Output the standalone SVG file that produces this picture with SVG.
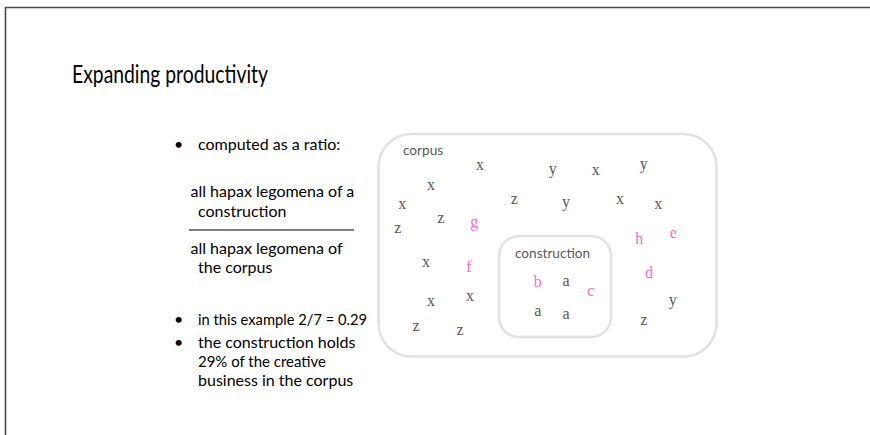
<svg xmlns="http://www.w3.org/2000/svg" width="870" height="435" viewBox="0 0 870 435">
<style>
.frame{fill:none;stroke:#4a4a4a;stroke-width:1.6}
.title{font-family:Lato,"Liberation Sans",sans-serif;font-size:25px;fill:#000}
.body{font-family:Lato,"Liberation Sans",sans-serif;font-size:16px;fill:#000}
.box{fill:#fff;stroke:#e2e2e2;stroke-width:2.6}
.lbl{font-family:Lato,"Liberation Sans",sans-serif;font-size:13.6px;fill:#595959}
.l{font-family:"Liberation Serif","DejaVu Serif",serif;font-size:16px;fill:#595959;text-anchor:middle}
.p{fill:#ff66cc}
.rule{stroke:#000;stroke-width:1}
</style>
<rect width="870" height="435" fill="#fff"/>
<path class="frame" d="M5.5,435 V7.5 H870"/>
<g id="title"><text class="title" x="72" y="83" textLength="196" lengthAdjust="spacingAndGlyphs">Expanding productivity</text></g>
<g id="bullets">
<text class="body" x="174" y="150">•</text>
<text class="body" x="198" y="150">computed as a ratio:</text>
<text class="body" x="190.5" y="197">all hapax legomena of a</text>
<text class="body" x="198" y="217">construction</text>
<text class="body" x="190.5" y="254">all hapax legomena of</text>
<text class="body" x="198" y="273">the corpus</text>
<text class="body" x="174" y="325">•</text>
<text class="body" x="198" y="325" textLength="169" lengthAdjust="spacingAndGlyphs">in this example 2/7 = 0.29</text>
<text class="body" x="174" y="348">•</text>
<text class="body" x="198" y="348">the construction holds</text>
<text class="body" x="198" y="367" textLength="128" lengthAdjust="spacingAndGlyphs">29% of the creative</text>
<text class="body" x="198" y="386">business in the corpus</text>
</g>
<g id="connectors"><line class="rule" x1="189" y1="230" x2="354" y2="230"/></g>
<g id="corpus">
<rect class="box" x="378.5" y="134" width="338" height="222.5" rx="33"/>
<text class="lbl" x="403" y="155">corpus</text>
</g>
<g id="construction">
<rect class="box" x="499" y="236" width="112" height="101" rx="20"/>
<text class="lbl" x="515" y="258">construction</text>
</g>
<g id="letters">
<text class="l" x="480" y="169.8">x</text>
<text class="l" x="552.7" y="173.7">y</text>
<text class="l" x="595.7" y="174.5">x</text>
<text class="l" x="643.7" y="168.7">y</text>
<text class="l" x="431" y="189.8">x</text>
<text class="l" x="402.3" y="208.8">x</text>
<text class="l" x="514.3" y="203.8">z</text>
<text class="l" x="566" y="207">y</text>
<text class="l" x="620" y="203.8">x</text>
<text class="l" x="658.3" y="208.8">x</text>
<text class="l" x="440.7" y="223.1">z</text>
<text class="l" x="397.7" y="232.8">z</text>
<text class="l p" x="474.3" y="227">g</text>
<text class="l p" x="639.3" y="243.5">h</text>
<text class="l p" x="673.3" y="237.8">e</text>
<text class="l" x="426" y="266.5">x</text>
<text class="l p" x="469" y="272">f</text>
<text class="l p" x="537.7" y="287">b</text>
<text class="l" x="566" y="285.5">a</text>
<text class="l p" x="590.7" y="296.1">c</text>
<text class="l p" x="649" y="277.8">d</text>
<text class="l" x="431" y="305.5">x</text>
<text class="l" x="470" y="300.5">x</text>
<text class="l" x="537.7" y="315.5">a</text>
<text class="l" x="566" y="318.8">a</text>
<text class="l" x="672.7" y="304.7">y</text>
<text class="l" x="416" y="330.5">z</text>
<text class="l" x="460" y="334.5">z</text>
<text class="l" x="643.7" y="324.5">z</text>
</g>
</svg>
